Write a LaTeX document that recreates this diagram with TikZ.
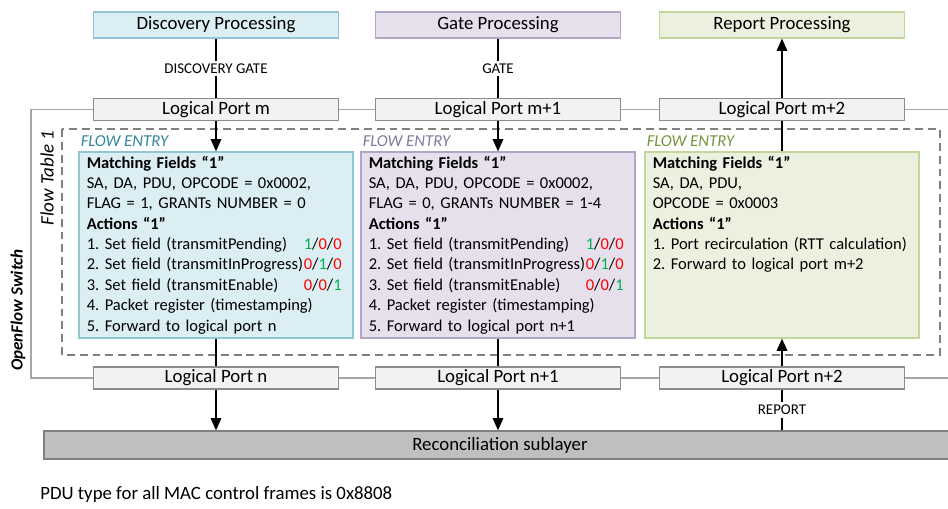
\documentclass[tikz,border=0pt]{standalone}
\usepackage{fontspec}
\setmainfont{Carlito}
\usepackage{xcolor}
\usetikzlibrary{arrows.meta}

\definecolor{bluefill}{HTML}{DBEEF3}
\definecolor{blueline}{HTML}{92C5D3}
\definecolor{bluetitle}{HTML}{31859C}
\definecolor{purplefill}{HTML}{E5E0EC}
\definecolor{purpleline}{HTML}{B1A6C6}
\definecolor{purpletitle}{HTML}{8078A0}
\definecolor{greenfill}{HTML}{EBF1DE}
\definecolor{greenline}{HTML}{C3D69B}
\definecolor{greentitle}{HTML}{77933C}
\definecolor{portfill}{HTML}{F2F2F2}
\definecolor{portline}{HTML}{8C8C8C}
\definecolor{framegray}{HTML}{A6A6A6}
\definecolor{dashgray}{HTML}{7F7F7F}
\definecolor{reconfill}{HTML}{BFBFBF}
\definecolor{reconline}{HTML}{7F7F7F}
\definecolor{bitgreen}{HTML}{00B050}
\definecolor{bitred}{HTML}{FF0000}

\newcommand{\bon}{\textcolor{bitgreen}{1}}
\newcommand{\boff}{\textcolor{bitred}{0}}
% one action line with its bits pushed to the right edge
\newcommand{\actline}[2]{\leavevmode\hbox to 5.1cm{#1\hfill#2}}

\begin{document}
\begin{tikzpicture}[x=0.02cm,y=0.02cm,>={Triangle[length=7pt,width=6pt]},
  font=\fontsize{10.7}{13}\selectfont,
  procbox/.style={draw=#1line,fill=#1fill,line width=0.7pt,minimum width=4.9cm,minimum height=0.52cm,inner sep=0pt},
  portbox/.style={draw=portline,fill=portfill,line width=0.7pt,minimum width=4.9cm,minimum height=0.44cm,inner sep=0pt},
  entrybox/.style={draw=#1line,fill=#1fill,line width=0.7pt,minimum width=5.48cm,minimum height=3.72cm,inner sep=0pt},
  entrytext/.style={anchor=north west,inner sep=0pt,text width=5.4cm,align=left,
    font=\fontsize{9.4}{11.6}\selectfont\frenchspacing},
  entrytitle/.style={anchor=base west,inner sep=0pt,text=#1title,font=\fontsize{9.5}{11.6}\selectfont\itshape},
  gatelbl/.style={fill=white,inner sep=1.5pt,font=\fontsize{8.5}{10}\selectfont},
  frameline/.style={draw=framegray,line width=0.7pt},
  wire/.style={line width=0.9pt}]
  \useasboundingbox (0,0) rectangle (948,509);
  \clip (0,0) rectangle (948,509);

  % processing blocks on top
  \node[procbox=blue]   (disc)   at (216,484) {Discovery Processing};
  \node[procbox=purple] (gate)   at (498,484) {Gate Processing};
  \node[procbox=green]  (report) at (782,484) {Report Processing};

  % logical ports of the switch
  \node[portbox] (pm)  at (216,399.5) {Logical Port m};
  \node[portbox] (pm1) at (498,399.5) {Logical Port m+1};
  \node[portbox] (pm2) at (782,399.5) {Logical Port m+2};
  \node[portbox] (pn)  at (216,131) {Logical Port n};
  \node[portbox] (pn1) at (498,131) {Logical Port n+1};
  \node[portbox] (pn2) at (782,131) {Logical Port n+2};

  % reconciliation sublayer
  \node[draw=reconline,fill=reconfill,line width=0.7pt,minimum width=18.24cm,minimum height=0.56cm,inner sep=0pt] (recon) at (500,64) {Reconciliation sublayer};

  % OpenFlow switch frame (open to the right)
  \coordinate (swNW) at (31,399.5);
  \coordinate (swSW) at (31,131);
  \coordinate (swNE) at (948,399.5);
  \coordinate (swSE) at (948,131);
  \draw[frameline] (pm.west) -- (swNW) -- (swSW) -- (pn.west);
  \draw[frameline] (pm.east) -- (pm1.west) (pm1.east) -- (pm2.west) (pm2.east) -- (swNE);
  \draw[frameline] (pn.east) -- (pn1.west) (pn1.east) -- (pn2.west) (pn2.east) -- (swSE);
  \node[rotate=90,font=\fontsize{9.7}{11.6}\selectfont\bfseries\itshape] (ofs) at (18,199) {OpenFlow Switch};

  % flow table 1
  \draw[dashgray,line width=0.9pt,dash pattern=on 4.5pt off 2.8pt] (62,380) rectangle (940,154);
  \node[rotate=90,font=\fontsize{10.8}{12}\selectfont\itshape] (ftab) at (47,331) {Flow Table 1};

  % flow entries
  \node[entrybox=blue]   (fe1) at (216,264) {};
  \node[entrybox=purple] (fe2) at (498,264) {};
  \node[entrybox=green]  (fe3) at (782,264) {};
  \node[entrytitle=blue]   (ft1) at ([shift={(2,4.5)}]fe1.north west) {FLOW ENTRY};
  \node[entrytitle=purple] (ft2) at ([shift={(2,4.5)}]fe2.north west) {FLOW ENTRY};
  \node[entrytitle=green]  (ft3) at ([shift={(2,4.5)}]fe3.north west) {FLOW ENTRY};

  \node[entrytext] (fx1) at ([shift={(8,-2)}]fe1.north west) {\strut\textbf{Matching Fields ``1''}\\
    SA, DA, PDU, OPCODE = 0x0002,\\
    FLAG = 1, GRANTs NUMBER = 0\\
    \textbf{Actions ``1''}\\
    \actline{1. Set field (transmitPending)}{\bon/\boff/\boff}\\
    \actline{2. Set field (transmitInProgress)}{\boff/\bon/\boff}\\
    \actline{3. Set field (transmitEnable)}{\boff/\boff/\bon}\\
    4. Packet register (timestamping)\\
    5. Forward to logical port n};
  \node[entrytext] (fx2) at ([shift={(8,-2)}]fe2.north west) {\strut\textbf{Matching Fields ``1''}\\
    SA, DA, PDU, OPCODE = 0x0002,\\
    FLAG = 0, GRANTs NUMBER = 1-4\\
    \textbf{Actions ``1''}\\
    \actline{1. Set field (transmitPending)}{\bon/\boff/\boff}\\
    \actline{2. Set field (transmitInProgress)}{\boff/\bon/\boff}\\
    \actline{3. Set field (transmitEnable)}{\boff/\boff/\bon}\\
    4. Packet register (timestamping)\\
    5. Forward to logical port n+1};
  \node[entrytext] (fx3) at ([shift={(8,-2)}]fe3.north west) {\strut\textbf{Matching Fields ``1''}\\
    SA, DA, PDU,\\
    OPCODE = 0x0003\\
    \textbf{Actions ``1''}\\
    \mbox{1. Port recirculation (RTT calculation)}\\
    2. Forward to logical port m+2};

  % discovery path
  \draw[wire] (disc) -- node[gatelbl] {DISCOVERY GATE} (pm);
  \draw[wire,->] (pm) -- (fe1);
  \draw[wire] (fe1) -- (pn);
  \draw[wire,->] (pn) -- (pn |- recon.north);

  % gate path
  \draw[wire] (gate) -- node[gatelbl] {GATE} (pm1);
  \draw[wire,->] (pm1) -- (fe2);
  \draw[wire] (fe2) -- (pn1);
  \draw[wire,->] (pn1) -- (pn1 |- recon.north);

  % report path (upwards)
  \draw[wire] (pn2 |- recon.north) -- node[gatelbl] {REPORT} (pn2);
  \draw[wire,->] (pn2) -- (fe3);
  \draw[wire] (fe3) -- (pm2);
  \draw[wire,->] (pm2) -- (report);

  % note
  \node[anchor=west,inner sep=0pt] (note) at (40,14) {PDU type for all MAC control frames is 0x8808};
\end{tikzpicture}
\end{document}
